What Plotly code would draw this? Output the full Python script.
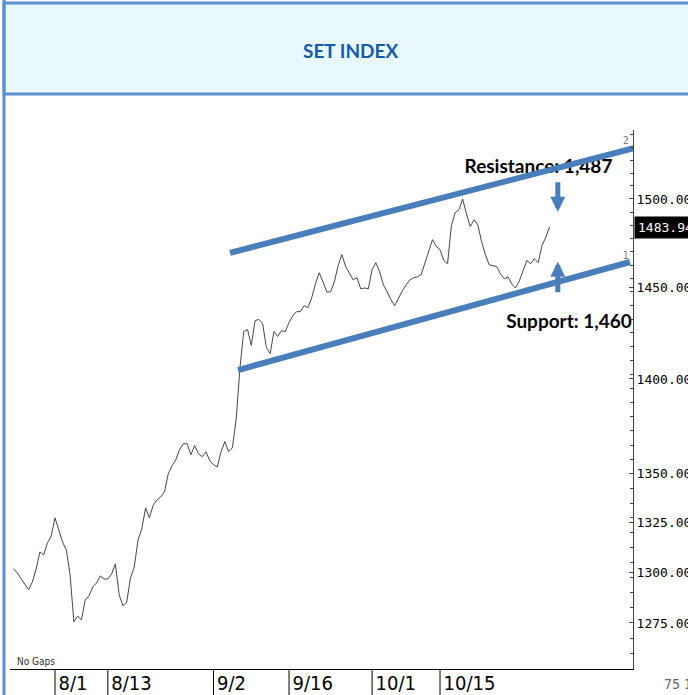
import math
import plotly.graph_objects as go

# ---------------- data ----------------
# trading-day index: 0 = 8/1 (one unit = one trading day)
tick_days = [0, 7, 21, 31, 42, 51]
tick_labels = ["8/1", "8/13", "9/2", "9/16", "10/1", "10/15"]

price_ticks = [1275, 1300, 1325, 1350, 1400, 1450, 1500]

first_session = -5.5      # first plotted half-day session (trading-day index)
session_step = 0.5        # two sessions per trading day
set_index = [
    1301.9, 1299.7, 1296.9, 1294.2, 1291.3, 1295.2, 1301.6, 1310.2, 1308.7, 1314.7,
    1318.3, 1327.4, 1321.3, 1315.2, 1311.2, 1298.7, 1275.5, 1278.4, 1276.5, 1286.3,
    1288.3, 1292.7, 1294.7, 1298.2, 1296.7, 1296.7, 1299.2, 1304.2, 1288.8, 1283.4,
    1285.3, 1297.2, 1302.7, 1316.2, 1321.8, 1332.5, 1327.4, 1333.8, 1336.6, 1338.1,
    1340.7, 1350.0, 1354.2, 1357.3, 1362.6, 1365.7, 1365.7, 1359.9, 1364.7, 1360.5,
    1358.9, 1361.5, 1356.8, 1354.7, 1353.6, 1361.5, 1366.8, 1361.5, 1363.6, 1378.7,
    1406.0, 1425.7, 1426.8, 1418.1, 1431.7, 1432.3, 1430.1, 1417.0, 1413.7, 1425.7,
    1423.0, 1426.2, 1425.7, 1430.6, 1434.4, 1436.6, 1436.6, 1439.9, 1438.8, 1444.3,
    1452.0, 1458.2, 1453.1, 1447.5, 1447.5, 1453.1, 1462.1, 1468.4, 1461.6, 1457.6,
    1454.2, 1455.4, 1449.2, 1449.7, 1449.2, 1459.9, 1463.8, 1458.8, 1451.4, 1447.5,
    1443.2, 1439.9, 1444.3, 1448.1, 1451.4, 1454.2, 1455.4, 1455.9, 1457.1, 1463.8,
    1470.1, 1476.8, 1472.9, 1471.2, 1465.0, 1463.3, 1484.7, 1492.1, 1493.8, 1500.0,
    1491.5, 1484.2, 1488.1, 1485.3, 1475.7, 1468.4, 1462.7, 1462.1, 1461.6, 1457.6,
    1454.8, 1455.9, 1452.0, 1449.7, 1453.6, 1459.3, 1465.0, 1463.3, 1466.1, 1463.8,
    1473.4, 1478.0, 1483.94,
]
sessions = [first_session + k * session_step for k in range(len(set_index))]
last_value = set_index[-1]

# trend lines (start/end in trading-day index and index level)
resistance_days = [23.18, 77.75]
resistance_levels = [1469.3, 1530.8]
support_days = [24.24, 76.16]
support_levels = [1404.8, 1464.2]

resistance_label = "Resistance: 1,487"
support_label = "Support: 1,460"

# ---------------- style ----------------
BLUE = "rgb(74,126,187)"
NARROW = "Liberation Sans Narrow, DejaVu Sans Condensed, Arial Narrow, sans-serif"
MONO = "DejaVu Sans Mono, Liberation Mono, monospace"
BOLD = "Lato, Open Sans, sans-serif"

fig = go.Figure()

# labels (drawn first so trend lines pass over them)
fig.add_trace(go.Scatter(
    x=[64.04, 68.08], y=[1517.8, 1430.5], mode="text",
    text=[resistance_label, support_label],
    textfont=dict(family=BOLD, size=19, color="black", weight="bold"),
    textposition="middle center", cliponaxis=False, hoverinfo="skip",
))

fig.add_trace(go.Scatter(
    x=sessions, y=set_index, mode="lines",
    line=dict(color="#474747", width=1), hoverinfo="skip",
))

for dx, lv in ((resistance_days, resistance_levels), (support_days, support_levels)):
    fig.add_trace(go.Scatter(
        x=dx, y=lv, mode="lines",
        line=dict(color=BLUE, width=6), hoverinfo="skip",
    ))

x_left, x_right = -5.96, 76.56
y_low, y_high = 1252.7, 1540.2

plot_h = 695 - 130 - 26

shapes = []
# title box
shapes.append(dict(type="rect", xref="paper", yref="paper",
                   x0=-6 / 623, x1=1.1, y0=1 + 36 / plot_h, y1=1 + 127 / plot_h,
                   fillcolor="#E8F8FC", line=dict(color="#5B8FD0", width=3), layer="below"))
# left border running down the page
shapes.append(dict(type="line", xref="paper", yref="paper",
                   x0=-6 / 623, x1=-6 / 623, y0=-26 / plot_h, y1=1 + 130 / plot_h,
                   line=dict(color="#5B8FD0", width=3)))
# date separators below the axis
for d in tick_days:
    shapes.append(dict(type="line", xref="x", yref="paper",
                       x0=d, x1=d, y0=0, y1=-26 / plot_h,
                       line=dict(color="black", width=1)))

annotations = [
    dict(text="<b>SET INDEX</b>", xref="paper", yref="paper",
         x=340 / 623, y=(669 - 50) / plot_h, xanchor="center", yanchor="middle",
         showarrow=False,
         font=dict(family=BOLD, size=19, color="rgb(20,92,170)")),
    dict(text="No Gaps", xref="paper", yref="paper", x=5 / 623, y=8 / plot_h,
         xanchor="left", yanchor="middle", showarrow=False,
         font=dict(family=NARROW, size=10, color="#333")),
    dict(text="75 100", xref="paper", yref="paper", x=1 + 29 / 623, y=-15 / plot_h,
         xanchor="left", yanchor="middle", showarrow=False,
         font=dict(family=NARROW, size=14, color="#666")),
    dict(text=f"{last_value:.2f}", xref="paper", yref="y", x=1, y=math.log10(last_value),
         xanchor="left", yanchor="middle", xshift=1, showarrow=False,
         bgcolor="black", borderpad=3,
         font=dict(family=MONO, size=13, color="white")),
    dict(text="2", xref="x", yref="y", x=75.6, y=math.log10(1534.3), showarrow=False,
         xanchor="center", yanchor="middle",
         font=dict(family=NARROW, size=10, color="#777")),
    dict(text="1", xref="x", yref="y", x=75.6, y=math.log10(1467.6), showarrow=False,
         xanchor="center", yanchor="middle",
         font=dict(family=NARROW, size=10, color="#777")),
    # arrows
    dict(text="", xref="x", yref="y", x=66.6, y=math.log10(1492.7),
         showarrow=True, ax=0, ay=-31, arrowhead=2, arrowsize=0.6, arrowwidth=5,
         arrowcolor=BLUE),
    dict(text="", xref="x", yref="y", x=66.6, y=math.log10(1464.4),
         showarrow=True, ax=0, ay=32, arrowhead=2, arrowsize=0.6, arrowwidth=5,
         arrowcolor=BLUE),
]

fig.update_layout(
    width=688, height=695,
    margin=dict(l=10, r=55, t=130, b=26, pad=0),
    paper_bgcolor="white", plot_bgcolor="white",
    showlegend=False,
    shapes=shapes, annotations=annotations,
    xaxis=dict(
        range=[x_left, x_right], tickmode="array", tickvals=tick_days, ticktext=tick_labels,
        ticks="", showgrid=False, zeroline=False, showline=True,
        linecolor="black", linewidth=1, automargin=False,
        ticklabelposition="outside right", ticklabelshift=3, ticklabelstandoff=-4,
        tickfont=dict(family=NARROW, size=20, color="black"),
    ),
    yaxis=dict(
        type="log", side="right",
        range=[math.log10(y_low), math.log10(y_high)],
        tickmode="array", tickvals=price_ticks,
        ticktext=[f"{v:.2f}" for v in price_ticks],
        ticks="inside", ticklen=4, tickcolor="#444",
        showline=True, linecolor="#444", linewidth=1,
        showgrid=False, zeroline=False, automargin=False,
        tickfont=dict(family=MONO, size=13, color="black"),
        minor=dict(ticks="inside", ticklen=3, dtick="L7.5", tick0=1500,
                   tickcolor="#444", showgrid=False),
    ),
)

fig.write_html(
    "out.html",
    config={"displayModeBar": False},
    post_script="document.body.style.margin='0';document.body.style.padding='0';",
)
